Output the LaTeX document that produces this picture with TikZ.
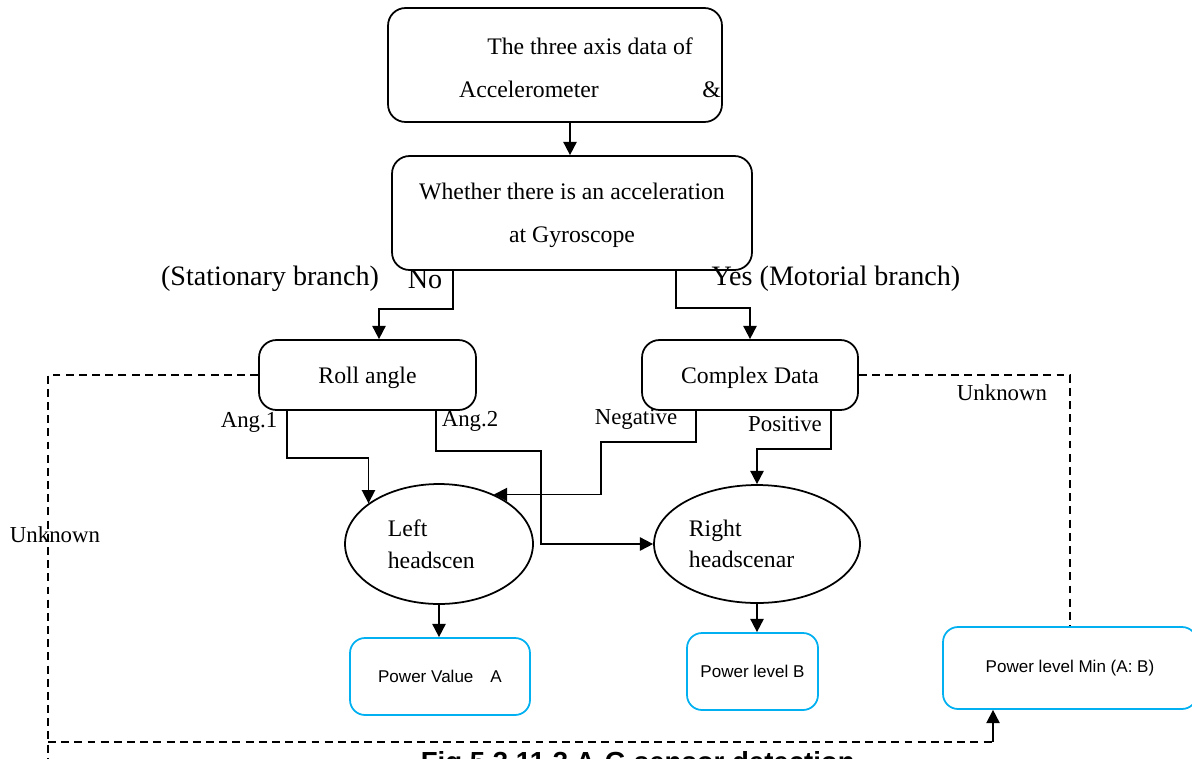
\documentclass[tikz,border=0pt]{standalone}
\usepackage{fontspec}
\setmainfont{Liberation Serif}
\setsansfont{Liberation Sans}
\usetikzlibrary{shapes.geometric, arrows.meta}
\definecolor{powblue}{RGB}{0,176,240}

\begin{document}
\begin{tikzpicture}[x=0.02cm, y=-0.02cm, line width=1pt,
    procbox/.style={draw, rounded corners=0.35cm, align=center, text depth=0pt, font=\fontsize{13.5}{24.4}\selectfont},
    bluebox/.style={draw=powblue, rounded corners=0.3cm, font=\sffamily\fontsize{9.7}{12}\selectfont},
    headell/.style={draw, ellipse, inner sep=0pt},
    elltext/.style={anchor=west, align=left, inner sep=0pt, font=\fontsize{13.5}{18}\selectfont},
    lbl/.style={inner sep=0pt, font=\fontsize{13}{15}\selectfont},
    brlbl/.style={inner sep=0pt, font=\fontsize{16}{18}\selectfont},
    arr/.style={-{Triangle[length=7.5pt, width=7.5pt]}},
    dashline/.style={dash pattern=on 4.5pt off 3pt}]
    \useasboundingbox (0,0) rectangle (1192,758);

    \node[procbox, minimum width=6.68cm, minimum height=2.28cm] (acc) at (555,65) {};
    \node[align=center, font=\fontsize{13.5}{24.4}\selectfont] (acctext) at (590,68) {The three axis data of\\Accelerometer\hspace{59pt}\&};
    \node[procbox, minimum width=7.2cm, minimum height=2.28cm] (gyro) at (572,213) {Whether there is an acceleration\\at Gyroscope};
    \node[procbox, minimum width=4.34cm, minimum height=1.4cm] (roll) at (367.5,375) {Roll angle};
    \node[procbox, minimum width=4.32cm, minimum height=1.4cm] (cplx) at (750,375) {Complex Data};

    \node[headell, minimum width=3.76cm, minimum height=2.4cm] (lefthead) at (439,544) {};
    \node[headell, minimum width=4.12cm, minimum height=2.36cm] (righthead) at (757,544) {};
    \node[elltext] (lefttext) at (387,544) {Left\\headscen};
    \node[elltext] (righttext) at (688,544) {Right\\headscenar};

    \node[bluebox, minimum width=3.6cm, minimum height=1.54cm] (powa) at (440,676.5) {Power Value\hspace{1em}A};
    \node[bluebox, minimum width=2.62cm, minimum height=1.54cm] (powb) at (752.5,671.5) {Power level B};
    \node[bluebox, minimum width=5.08cm, minimum height=1.64cm] (powmin) at (1070,668) {Power level Min (A: B)};

    \node[brlbl] (stat) at (270,279) {(Stationary branch)};
    \node[brlbl] (no) at (425,279) {No};
    \node[brlbl] (yes) at (836,279) {Yes (Motorial branch)};
    \node[lbl] (ang1) at (249,422) {Ang.1};
    \node[lbl] (ang2) at (470,421) {Ang.2};
    \node[lbl] (neg) at (636,419) {Negative};
    \node[lbl] (pos) at (785,424) {Positive};
    \node[lbl] (unkleft) at (55,535) {Unknown};
    \node[lbl] (unkright) at (1002,393) {Unknown};
    \node[anchor=base west, inner sep=0pt, font=\sffamily\bfseries\fontsize{15.7}{18}\selectfont] (caption) at (420,771) {Fig 5.3.11.3 A-G sensor detection};

    \draw[arr] ([xshift=0.3cm]acc.south) -- ([xshift=-0.04cm]gyro.north);
    \draw[arr] ([xshift=-2.38cm]gyro.south) -- ++(0,38) -| ([xshift=0.23cm]roll.north);
    \draw[arr] ([xshift=2.08cm]gyro.south) -- ++(0,37) -| (cplx.north);

    \draw[arr] ([xshift=-1.61cm]roll.south) -- ++(0,47) -| (lefthead.150);
    \draw[arr] ([xshift=1.37cm]roll.south) -- ++(0,40) -- ++(105,0) |- (righthead.west);
    \draw[arr] ([xshift=-1.08cm]cplx.south) -- ++(0,31) -- ++(-95,0) |- (lefthead.42);
    \draw[arr] ([xshift=1.62cm]cplx.south) -- ++(0,38) -| (righthead.north);

    \draw[arr] (lefthead.south) -- (lefthead.south |- powa.north);
    \draw[arr] (righthead.south) -- (righthead.south |- powb.north);

    \coordinate (leftend) at (48,770);
    \coordinate (bottomline) at (48,742);
    \coordinate (mintip) at ([xshift=-1.54cm]powmin.south);
    \draw[dashline] (roll.west) -| (leftend);
    \draw[dashline] (bottomline) -- (bottomline -| mintip);
    \draw[arr] (bottomline -| mintip) -- (mintip);
    \draw[dashline] (cplx.east) -| (powmin.north);
\end{tikzpicture}
\end{document}
